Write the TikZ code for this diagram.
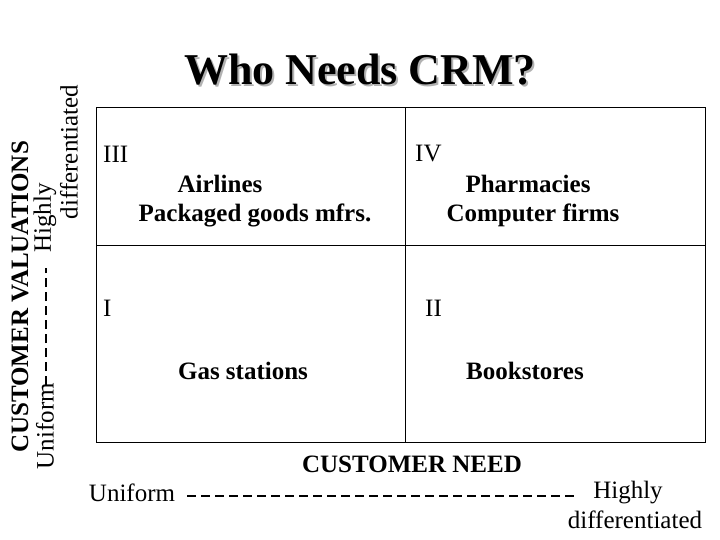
\documentclass[tikz,border=0pt]{standalone}
\usepackage{fontspec}
\setmainfont{Liberation Serif}
\begin{document}
\begin{tikzpicture}[x=1pt,y=-1pt,
  txt/.style={inner sep=0pt,font=\fontsize{25}{27}\selectfont},
  btxt/.style={inner sep=0pt,font=\fontsize{25}{27}\selectfont\bfseries},
  dash line/.style={line width=2.5pt,dash pattern=on 9pt off 5pt}]
\useasboundingbox (0,0) rectangle (720,540);
\node[inner sep=0pt,font=\fontsize{44}{46}\selectfont\bfseries,text=gray!60] at (362,72) {Who Needs CRM?};
\node[inner sep=0pt,font=\fontsize{44}{46}\selectfont\bfseries] (title) at (360,70) {Who Needs CRM?};
\draw[line width=1pt] (96,108) rectangle (705,442);
\coordinate (vt) at (405,108); \coordinate (vb) at (405,442);
\coordinate (hl) at (96,245); \coordinate (hr) at (705,245);
\draw[line width=1pt] (vt) -- (vb);
\draw[line width=1pt] (hl) -- (hr);
\node[txt,anchor=west] (q3) at (103,154) {III};
\node[txt,anchor=west] (q4) at (415,154) {IV};
\node[txt,anchor=west] (q1) at (103,308) {I};
\node[txt,anchor=west] (q2) at (425,308) {II};
\node[btxt] (a1) at (220,184) {Airlines};
\node[btxt] (a2) at (255,215) {Packaged goods mfrs.};
\node[btxt] (b1) at (528,184) {Pharmacies};
\node[btxt] (b2) at (533,215) {Computer firms};
\node[btxt] (c1) at (243,371) {Gas stations};
\node[btxt] (d1) at (525,371) {Bookstores};
% left axis
\node[btxt,rotate=90] (cv) at (20,297) {CUSTOMER VALUATIONS};
\node[txt,rotate=90] (lu) at (45,426) {Uniform};
\node[txt,rotate=90] (lh) at (45,218) {Highly};
\node[txt,rotate=90] (ld) at (69,152) {differentiated};
\coordinate (ls) at (46,385); \coordinate (le) at (46,268);
\draw[dash line] (ls) -- (le);
% bottom axis
\node[btxt] (cn) at (412,464) {CUSTOMER NEED};
\node[txt] (bu) at (132,493) {Uniform};
\node[txt] (bh) at (628,493) {Highly};
\node[txt] (bd) at (635,520) {differentiated};
\coordinate (bs) at (187,496); \coordinate (be) at (575,496);
\draw[dash line] (bs) -- (be);
\end{tikzpicture}
\end{document}
